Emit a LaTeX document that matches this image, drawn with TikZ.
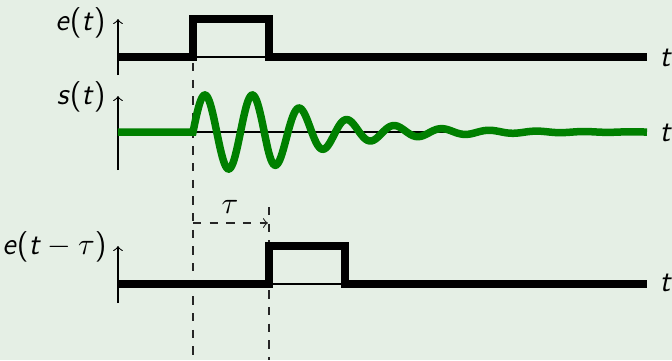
\documentclass[tikz,border=0pt]{standalone}
\usepackage{tikz}
\definecolor{bg}{RGB}{229,239,229}
\definecolor{sig}{RGB}{0,128,0}
\newcommand{\myvar}[1]{\textsf{\textit{#1}}}
\newcommand{\mypar}[1]{\textsf{#1}}
\begin{document}
\begin{tikzpicture}[x=0.36pt,y=-0.36pt,
  lbl/.style={inner sep=0pt,font=\fontsize{11}{13}\selectfont},
  axis/.style={line width=0.4pt,black},
  yaxis/.style={line width=0.4pt,black,->},
  guide/.style={line width=0.4pt,black!85,dash pattern=on 3pt off 3pt},
  thicksig/.style={line width=2.7pt,black},
  greensig/.style={line width=2.7pt,sig}]
\fill[bg] (0,0) rectangle (672,360);
\useasboundingbox (0,0) rectangle (672,360);
% coordinates
\coordinate (a1b) at (118,75); \coordinate (a1t) at (118,19);
\coordinate (a2b) at (118,170); \coordinate (a2t) at (118,96);
\coordinate (a3b) at (118,303); \coordinate (a3t) at (118,246);
\coordinate (o1) at (118,57); \coordinate (e1) at (647,57);
\coordinate (o2) at (118,132); \coordinate (e2) at (647,132);
\coordinate (o3) at (118,284); \coordinate (e3) at (647,284);
\coordinate (d1t) at (193,57); \coordinate (d1b) at (193,360);
\coordinate (d2t) at (269,207); \coordinate (d2b) at (269,360);
\coordinate (ts) at (193,223); \coordinate (te) at (268,223);
% guides
\draw[guide,dash phase=3.8pt] (d1t) -- (d1b);
\draw[guide] (d2t) -- (d2b);
\draw[guide,->] (ts) -- (te);
\node[lbl] (tau) at (230,207) {$\tau$};
% axes
\draw[axis] (o1) -- (e1);
\draw[axis] (o2) -- (e2);
\draw[axis] (o3) -- (e3);
\draw[yaxis] (a1b) -- (a1t);
\draw[yaxis] (a2b) -- (a2t);
\draw[yaxis] (a3b) -- (a3t);
% signals
\draw[thicksig] (o1) -- (193,57) -- (193,19) -- (269,19) -- (269,57) -- (e1);
\draw[thicksig] (o3) -- (269,284) -- (269,246) -- (345,246) -- (345,284) -- (e3);
\draw[greensig] (o2) -- (193,132) -- plot[domain=193:647,samples=420] (\x,{132-37*exp(-0.0138*max(\x-268,0))*sin((\x-193)*7.578947)});
% labels
\node[lbl,anchor=east] (le1) at (106,23) {$\myvar{e}\mypar{(}\myvar{t}\mypar{)}$};
\node[lbl,anchor=east] (ls) at (106,97) {$\myvar{s}\mypar{(}\myvar{t}\mypar{)}$};
\node[lbl,anchor=east] (le3) at (107,247) {$\myvar{e}\mypar{(}\myvar{t}-\tau\mypar{)}$};
\node[lbl,anchor=west] (t1) at (659,58) {\myvar{t}};
\node[lbl,anchor=west] (t2) at (659,133) {\myvar{t}};
\node[lbl,anchor=west] (t3) at (659,283) {\myvar{t}};
\end{tikzpicture}
\end{document}
